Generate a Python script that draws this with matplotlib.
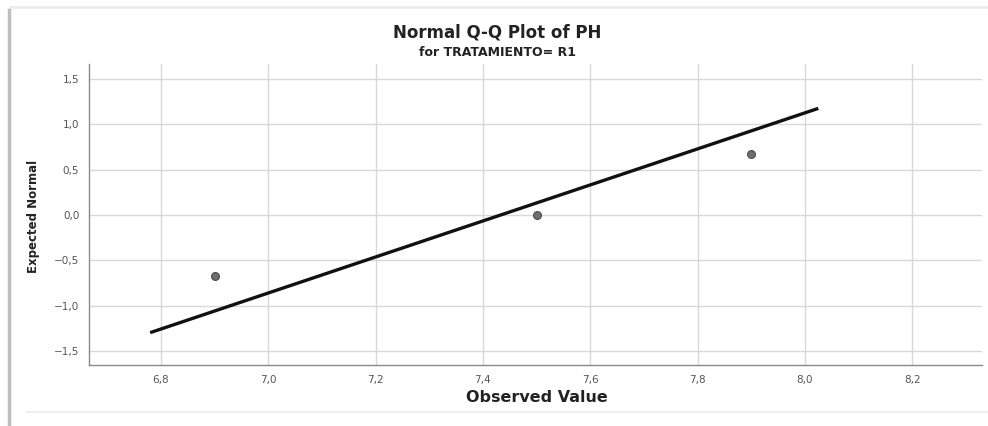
import matplotlib
matplotlib.use("Agg")
import matplotlib.pyplot as plt
from matplotlib.ticker import FuncFormatter
from matplotlib.lines import Line2D
import numpy as np

observed = [6.9, 7.5, 7.9]
expected = [-0.674, 0.0, 0.674]
line_x = [6.78, 8.025]
x_ticks = [6.8, 7.0, 7.2, 7.4, 7.6, 7.8, 8.0, 8.2]
y_ticks = [-1.5, -1.0, -0.5, 0.0, 0.5, 1.0, 1.5]

title = "Normal Q-Q Plot of PH"
subtitle = "for TRATAMIENTO= R1"
xlabel = "Observed Value"
ylabel = "Expected Normal"

fam = ["DejaVu Sans"]

fig = plt.figure(figsize=(9.88, 4.26), dpi=100)
ax = fig.add_axes([89/988, 1-365/426, (982-89)/988, (365-64)/426])

mean = np.mean(observed)
sd = np.std(observed, ddof=1)
lx = np.array(line_x)
ax.plot(lx, (lx - mean) / sd, color="#111111", lw=2.4, zorder=3, solid_capstyle="butt")
ax.scatter(observed, expected, s=32, color="#6e6e6e", edgecolor="#4a4a4a",
           linewidth=0.8, zorder=4)

ax.set_xlim(6.666, 8.33)
ax.set_ylim(-1.655, 1.665)
ax.set_xticks(x_ticks)
ax.set_yticks(y_ticks)
fmt = FuncFormatter(lambda v, p: f"{v:.1f}".replace(".", ",").replace("-", "\u2212"))
ax.xaxis.set_major_formatter(fmt)
ax.yaxis.set_major_formatter(fmt)
ax.grid(True, color="#d8d8d8", lw=1.0)
ax.set_axisbelow(True)
ax.tick_params(length=0, pad=7, labelsize=7.5, labelcolor="#555555")
for s in ["top", "right"]:
    ax.spines[s].set_visible(False)
for s in ["left", "bottom"]:
    ax.spines[s].set_color("#8a8a8a")
    ax.spines[s].set_linewidth(1.0)

fig.text(0.5037, 1-33/426, title, ha="center", va="center", fontsize=12,
         fontweight="bold", family=fam, color="#222222")
fig.text(0.504, 1-53/426, subtitle, ha="center", va="center", fontsize=9,
         fontweight="bold", family=fam, color="#222222")
fig.text(537/988, 1-398/426, xlabel, ha="center", va="center", fontsize=11.5,
         fontweight="bold", family=fam, color="#222222")
fig.text(33/988, 1-216/426, ylabel, ha="center", va="center", fontsize=8.5,
         fontweight="bold", family=fam, color="#222222", rotation=90)

# screenshot frame
fig.add_artist(Line2D([8.5/988, 8.5/988], [1-10/426, 0.0], transform=fig.transFigure,
                      color="#bdbdbd", lw=2.5))
fig.add_artist(Line2D([10/988, 1.0], [1-6.5/426, 1-6.5/426], transform=fig.transFigure,
                      color="#ececec", lw=2))
fig.add_artist(Line2D([27/988, 1.0], [1-412/426, 1-412/426], transform=fig.transFigure,
                      color="#efefef", lw=1.5))

fig.savefig("out.png", dpi=100)
